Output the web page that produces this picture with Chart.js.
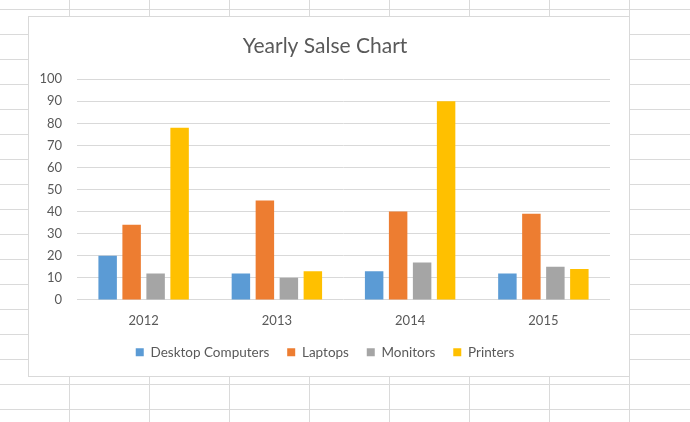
<!DOCTYPE html>
<html>
<head>
<meta charset="utf-8">
<script src="https://cdn.jsdelivr.net/npm/chart.js@4"></script>
<style>
  html, body {
    margin: 0;
    padding: 0;
    width: 690px;
    height: 422px;
    overflow: hidden;
    background-color: #fff;
    /* spreadsheet cells behind the chart */
    background-image:
      linear-gradient(to right, #dadada 1px, transparent 1px),
      linear-gradient(to bottom, #dadada 1px, transparent 1px);
    background-size: 80px 25px;
    background-position: 69px 9px;
  }
  #chart-box {
    position: absolute;
    left: 28px;
    top: 16px;
    width: 600px;
    height: 359px;
    background: #fff;
    border: 1px solid #d9d9d9;
  }
</style>
</head>
<body>
<div id="chart-box"><canvas id="sales-chart" width="600" height="359"></canvas></div>
<script>
const years = ['2012', '2013', '2014', '2015'];
const desktopComputers = [20, 12, 13, 12];
const laptops = [34, 45, 40, 39];
const monitors = [12, 10, 17, 15];
const printers = [78, 13, 90, 14];
const yTicks = [0, 10, 20, 30, 40, 50, 60, 70, 80, 90, 100];

const textColor = '#595959';
const fontFamily = 'Lato, "Liberation Sans", sans-serif';

function makeSet(label, values, color) {
    return {
        label: label,
        data: values,
        backgroundColor: color,
        borderColor: color,
        borderWidth: 0,
        barPercentage: 0.77,
        categoryPercentage: 0.72
    };
}

// legend items sit further apart than the vertical padding allows
function spacedLabels(chart) {
    const items = Chart.defaults.plugins.legend.labels.generateLabels(chart);
    items.forEach((item, i) => {
        if (i < items.length - 1) item.text = item.text + '    ';
    });
    return items;
}

document.addEventListener('DOMContentLoaded', () => {
    const ctx = document.getElementById('sales-chart').getContext('2d');
    new Chart(ctx, {
        type: 'bar',
        data: {
            labels: years,
            datasets: [
                makeSet('Desktop Computers', desktopComputers, '#5B9BD5'),
                makeSet('Laptops', laptops, '#ED7D31'),
                makeSet('Monitors', monitors, '#A5A5A5'),
                makeSet('Printers', printers, '#FFC000')
            ]
        },
        options: {
            responsive: false,
            animation: false,
            layout: {
                padding: { left: 11, right: 19, top: 0, bottom: 7 }
            },
            plugins: {
                title: {
                    display: true,
                    text: 'Yearly Salse Chart',
                    color: textColor,
                    font: { family: fontFamily, size: 21, weight: 'normal' },
                    padding: { top: 17, bottom: 20 }
                },
                legend: {
                    position: 'bottom',
                    labels: {
                        color: textColor,
                        font: { family: fontFamily, size: 13.5 },
                        boxWidth: 8,
                        boxHeight: 8,
                        padding: 4,
                        generateLabels: spacedLabels
                    }
                },
                tooltip: { enabled: false }
            },
            scales: {
                x: {
                    grid: { display: false, drawTicks: false },
                    border: { display: false },
                    ticks: {
                        color: textColor,
                        font: { family: fontFamily, size: 13 },
                        padding: 13
                    }
                },
                y: {
                    min: yTicks[0],
                    max: yTicks[yTicks.length - 1],
                    afterFit: scale => {
                        scale.width = 37;
                    },
                    grid: { color: '#d9d9d9', lineWidth: 1, drawTicks: false },
                    border: { display: false },
                    ticks: {
                        stepSize: yTicks[1] - yTicks[0],
                        color: textColor,
                        font: { family: fontFamily, size: 13 },
                        padding: 15
                    }
                }
            }
        }
    });
});
</script>
</body>
</html>
